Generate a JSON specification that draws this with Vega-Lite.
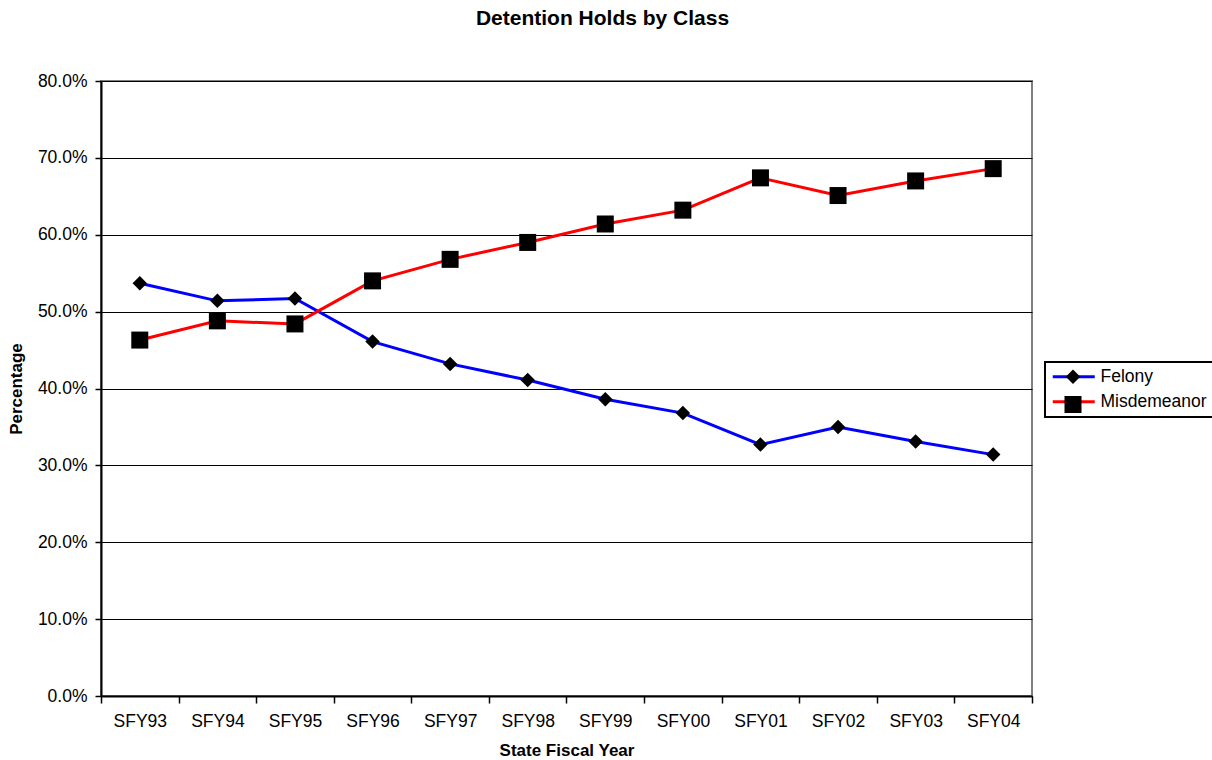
{
  "$schema": "https://vega.github.io/schema/vega-lite/v6.json",
  "width": 931,
  "height": 615,
  "autosize": {"type": "none"},
  "padding": {"left": 101, "top": 81, "right": 180, "bottom": 64},
  "background": "white",
  "config": {
    "font": "Liberation Sans",
    "view": {"stroke": "#808080", "strokeWidth": 2},
    "axis": {"labelFont": "Liberation Sans", "titleFont": "Liberation Sans", "labelColor": "black", "titleColor": "black"},
    "legend": {"labelFont": "Liberation Sans"}
  },
  "title": {
    "text": "Detention Holds by Class",
    "fontSize": 21,
    "fontWeight": "bold",
    "font": "Liberation Sans",
    "color": "black",
    "anchor": "middle",
    "dx": 36,
    "offset": 43
  },
  "data": {
    "values": [
      {"year": "SFY93", "class": "Felony", "pct": 53.7},
      {"year": "SFY94", "class": "Felony", "pct": 51.4},
      {"year": "SFY95", "class": "Felony", "pct": 51.7},
      {"year": "SFY96", "class": "Felony", "pct": 46.1},
      {"year": "SFY97", "class": "Felony", "pct": 43.2},
      {"year": "SFY98", "class": "Felony", "pct": 41.1},
      {"year": "SFY99", "class": "Felony", "pct": 38.6},
      {"year": "SFY00", "class": "Felony", "pct": 36.8},
      {"year": "SFY01", "class": "Felony", "pct": 32.7},
      {"year": "SFY02", "class": "Felony", "pct": 35.0},
      {"year": "SFY03", "class": "Felony", "pct": 33.1},
      {"year": "SFY04", "class": "Felony", "pct": 31.4},
      {"year": "SFY93", "class": "Misdemeanor", "pct": 46.3},
      {"year": "SFY94", "class": "Misdemeanor", "pct": 48.8},
      {"year": "SFY95", "class": "Misdemeanor", "pct": 48.4},
      {"year": "SFY96", "class": "Misdemeanor", "pct": 54.0},
      {"year": "SFY97", "class": "Misdemeanor", "pct": 56.8},
      {"year": "SFY98", "class": "Misdemeanor", "pct": 59.0},
      {"year": "SFY99", "class": "Misdemeanor", "pct": 61.4},
      {"year": "SFY00", "class": "Misdemeanor", "pct": 63.2},
      {"year": "SFY01", "class": "Misdemeanor", "pct": 67.4},
      {"year": "SFY02", "class": "Misdemeanor", "pct": 65.1},
      {"year": "SFY03", "class": "Misdemeanor", "pct": 67.0},
      {"year": "SFY04", "class": "Misdemeanor", "pct": 68.6}
    ]
  },
  "encoding": {
    "x": {
      "field": "year",
      "type": "nominal",
      "sort": null,
      "scale": {"type": "band", "paddingInner": 0, "paddingOuter": 0},
      "axis": {
        "title": "State Fiscal Year",
        "titleFontSize": 17,
        "titleFontWeight": "bold",
        "titlePadding": 13,
        "labelFontSize": 17.5,
        "labelAngle": 0,
        "labelPadding": 9,
        "tickBand": "extent",
        "tickSize": 7,
        "tickColor": "black",
        "tickWidth": 1.5,
        "domainColor": "black",
        "domainWidth": 2,
        "grid": false
      }
    },
    "y": {
      "field": "pct",
      "type": "quantitative",
      "scale": {"domain": [0, 80], "nice": false, "zero": true},
      "axis": {
        "title": "Percentage",
        "titleFontSize": 17,
        "titleFontWeight": "bold",
        "titlePadding": 12,
        "values": [0, 10, 20, 30, 40, 50, 60, 70, 80],
        "labelExpr": "format(datum.value, '.1f') + '%'",
        "labelFontSize": 17.5,
        "labelPadding": 8,
        "tickSize": 6,
        "tickColor": "black",
        "tickWidth": 1.5,
        "domainColor": "black",
        "domainWidth": 2,
        "grid": true,
        "gridColor": "black",
        "gridWidth": 1,
        "gridOpacity": 1
      }
    }
  },
  "layer": [
    {
      "mark": {"type": "line", "strokeWidth": 3},
      "encoding": {
        "color": {
          "field": "class",
          "type": "nominal",
          "scale": {"domain": ["Felony", "Misdemeanor"], "range": ["#0000FF", "#FF0000"]},
          "legend": {
            "title": null,
            "orient": "none",
            "legendX": 944,
            "legendY": 281,
            "symbolType": "M-1,0H5",
            "symbolSize": 196,
            "symbolStrokeWidth": 3,
            "labelFontSize": 17.5,
            "labelColor": "black",
            "strokeColor": "black",
            "padding": 6,
            "rowPadding": 6,
            "labelOffset": 32,
            "symbolOffset": 0,
            "encode": {"legend": {"update": {"strokeWidth": {"value": 2}}}}
          }
        }
      }
    },
    {
      "mark": {"type": "point", "filled": true, "color": "black", "opacity": 1},
      "encoding": {
        "shape": {
          "field": "class",
          "type": "nominal",
          "scale": {"domain": ["Misdemeanor", "Felony"], "range": ["square", "diamond"]},
          "legend": {
            "title": null,
            "orient": "none",
            "legendX": 956.5,
            "legendY": 281,
            "values": ["Felony", "Misdemeanor"],
            "labelFontSize": 17.5,
            "labelExpr": "''",
            "symbolFillColor": "black",
            "symbolStrokeColor": "black",
            "symbolOpacity": 1,
            "padding": 6,
            "rowPadding": 6,
            "labelOffset": 4,
            "symbolOffset": 0
          }
        },
        "size": {
          "field": "class",
          "type": "nominal",
          "scale": {"domain": ["Misdemeanor", "Felony"], "range": [289, 210]}
        }
      }
    }
  ]
}
